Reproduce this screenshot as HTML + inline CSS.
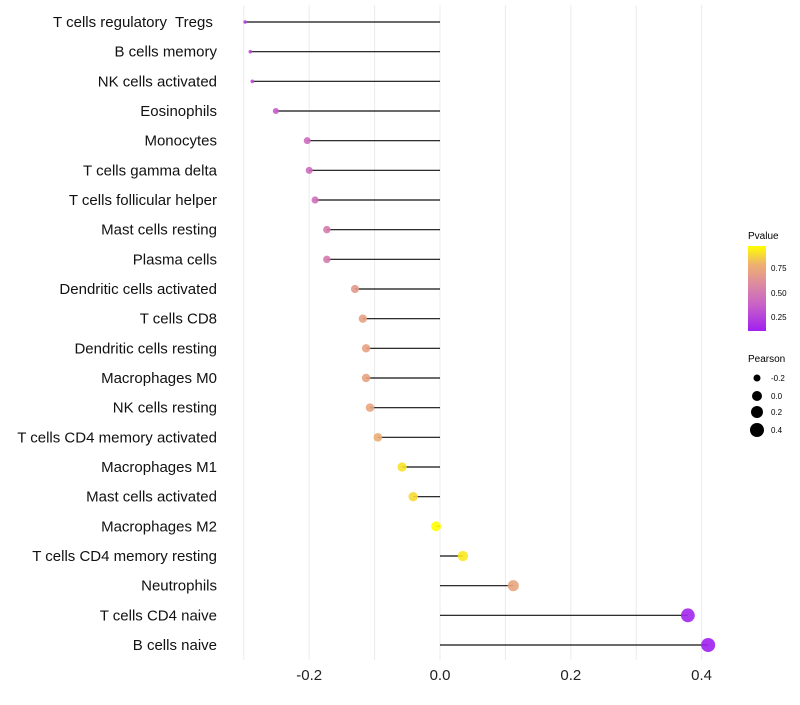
<!DOCTYPE html>
<html><head><meta charset="utf-8"><style>
body{margin:0;background:#fff;font-family:"Liberation Sans",sans-serif}
svg text{font-family:"Liberation Sans",sans-serif}
</style></head><body>
<svg id="chart" width="800" height="700">
<defs><linearGradient id="pg" x1="0" y1="1" x2="0" y2="0">
<stop offset="0" stop-color="#a020f0"/><stop offset="0.3" stop-color="#c860c8"/><stop offset="0.55" stop-color="#dc8aa0"/><stop offset="0.78" stop-color="#eeb070"/><stop offset="1" stop-color="#ffff00"/></linearGradient></defs>
<g id="grid"></g><g id="marks"></g><g id="labels"></g>
<g>
<text x="748" y="239" font-size="10">Pvalue</text>
<rect x="748" y="246" width="18" height="85" fill="url(#pg)"/>
<text x="771" y="271" font-size="8">0.75</text>
<text x="771" y="296" font-size="8">0.50</text>
<text x="771" y="320" font-size="8">0.25</text>
</g>
<g>
<text x="748" y="362" font-size="10">Pearson</text>
<circle cx="757" cy="378" r="3.5"/><text x="771" y="381" font-size="8">-0.2</text>
<circle cx="757" cy="396" r="5"/><text x="771" y="399" font-size="8">0.0</text>
<circle cx="757" cy="412" r="6"/><text x="771" y="415" font-size="8">0.2</text>
<circle cx="757" cy="430" r="7"/><text x="771" y="433" font-size="8">0.4</text>
</g>
</svg>
<script>
const categories=["T cells regulatory  Tregs ","B cells memory","NK cells activated","Eosinophils","Monocytes","T cells gamma delta","T cells follicular helper","Mast cells resting","Plasma cells","Dendritic cells activated","T cells CD8","Dendritic cells resting","Macrophages M0","NK cells resting","T cells CD4 memory activated","Macrophages M1","Mast cells activated","Macrophages M2","T cells CD4 memory resting","Neutrophils","T cells CD4 naive","B cells naive"];
const pearson=[-0.298,-0.290,-0.287,-0.251,-0.203,-0.200,-0.191,-0.173,-0.173,-0.130,-0.118,-0.113,-0.113,-0.107,-0.095,-0.058,-0.041,-0.006,0.035,0.112,0.379,0.410];
const pvalue=[0.22,0.26,0.28,0.35,0.42,0.42,0.45,0.5,0.5,0.66,0.7,0.71,0.71,0.72,0.76,0.9,0.88,0.98,0.92,0.72,0.12,0.1];
const tickVals=[-0.2,0,0.2,0.4];
const tickLabels=["-0.2","0.0","0.2","0.4"];
const NS="http://www.w3.org/2000/svg";
const x=v=>440+v*654;
const y=i=>22+i*(623/21);
const pmin=0.1,pmax=0.97;
const stops=[[0,[160,32,240]],[0.3,[200,96,200]],[0.55,[220,138,160]],[0.78,[238,176,112]],[1,[255,255,0]]];
function col(p){let t=Math.max(0,Math.min(1,(p-pmin)/(pmax-pmin)));for(let k=1;k<stops.length;k++){if(t<=stops[k][0]){const a=stops[k-1],b=stops[k];const f=(t-a[0])/(b[0]-a[0]);return "rgb("+a[1].map((c,j)=>Math.round(c+(b[1][j]-c)*f)).join(",")+")";}}return "rgb(255,255,0)";}
const rad=v=>Math.sqrt(Math.max(2.25,24.5+61*v))*(v<-0.27?0.7:1);
const mk=(t,a,p)=>{const e=document.createElementNS(NS,t);for(const k in a)e.setAttribute(k,a[k]);p.appendChild(e);return e;};
const grid=document.getElementById('grid'),marks=document.getElementById('marks'),labels=document.getElementById('labels');
for(let v=-0.3;v<=0.41;v+=0.1){const g=mk('line',{x1:x(v),x2:x(v),y1:5,y2:660,stroke:'#ebebeb','stroke-width':1},grid);

}
tickVals.forEach((v,i)=>{const t=mk('text',{x:x(v),y:680,'font-size':15,'text-anchor':'middle',fill:'#222'},labels);t.textContent=tickLabels[i];

});
categories.forEach((c,i)=>{
const t=mk('text',{x:217,y:y(i)+5,'font-size':15,'text-anchor':'end',fill:'#111'},labels);
t.setAttribute('xml:space','preserve');
t.style.whiteSpace='pre';
t.textContent=c;


const l=mk('line',{x1:x(0),x2:x(pearson[i]),y1:y(i),y2:y(i),stroke:'#111','stroke-width':1.2},marks);


const d=mk('circle',{cx:x(pearson[i]),cy:y(i),r:rad(pearson[i]),fill:col(pvalue[i]),'fill-opacity':0.9},marks);


});
</script>
</body></html>
